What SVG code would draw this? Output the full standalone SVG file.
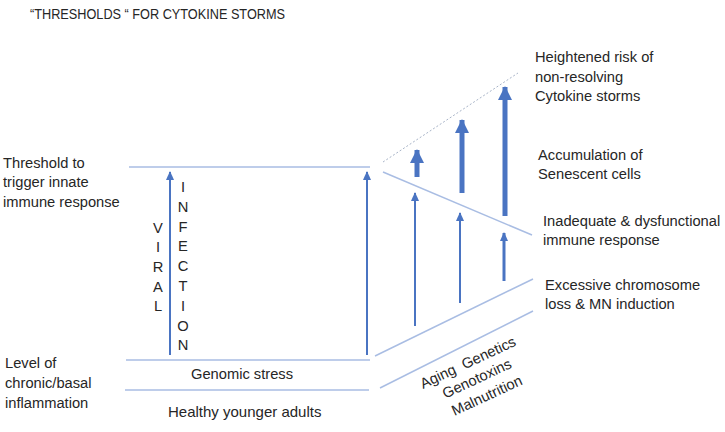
<svg xmlns="http://www.w3.org/2000/svg" width="725" height="432" viewBox="0 0 725 432">
<style>
text{font-family:"Liberation Sans",Arial,sans-serif;fill:#262626;font-size:14.7px}
.ln{stroke:#a9bde3;stroke-width:1.5;fill:none}
.ar{stroke:#4a74c2;fill:none}
</style>
<defs>
<marker id="hs" markerUnits="userSpaceOnUse" markerWidth="8" markerHeight="10" refX="4" refY="1" viewBox="0 0 8 10">
<path d="M4 0 L8 9 L0 9 Z" fill="#4a74c2"/>
</marker>
<marker id="hb" markerUnits="userSpaceOnUse" markerWidth="16" markerHeight="16" refX="8" refY="1" viewBox="0 0 16 16">
<path d="M8 0 L15 14 L1 14 Z" fill="#4a74c2"/>
</marker>
</defs>
<text x="30" y="19" style="font-size:14px" textLength="255" lengthAdjust="spacingAndGlyphs">“THRESHOLDS “ FOR CYTOKINE STORMS</text>
<g id="left-labels">
<text x="3" y="168">Threshold to</text>
<text x="3" y="187">trigger innate</text>
<text x="3" y="207">immune response</text>
<text x="5" y="368">Level of</text>
<text x="5" y="388">chronic/basal</text>
<text x="5" y="408">inflammation</text>
<text x="168" y="417" style="font-size:15px">Healthy younger adults</text>
</g>
<g id="levels">
<line class="ln" x1="129" y1="167" x2="370" y2="167"/>
<line class="ln" x1="126" y1="360" x2="370" y2="360"/>
<line class="ln" x1="125" y1="390" x2="369" y2="390"/>
<text x="242" y="379" text-anchor="middle">Genomic stress</text>
</g>
<g id="viral" text-anchor="middle" style="font-size:15px">
<text x="158" y="233">V</text><text x="158" y="252">I</text><text x="158" y="272">R</text><text x="158" y="292">A</text><text x="158" y="311">L</text>
<text x="183" y="192">I</text><text x="183" y="212">N</text><text x="183" y="232">F</text><text x="183" y="251">E</text><text x="183" y="271">C</text><text x="183" y="291">T</text><text x="183" y="311">I</text><text x="183" y="331">O</text><text x="183" y="350">N</text>
</g>
<g id="wedge">
<line x1="383" y1="162" x2="518" y2="73" stroke="#a8b4c8" stroke-width="1" stroke-dasharray="2,2"/>
<line class="ln" x1="383" y1="172" x2="532" y2="235"/>
<line class="ln" x1="375" y1="356" x2="533" y2="279"/>
<line class="ln" x1="380" y1="388" x2="533" y2="311"/>
</g>
<g id="connectors">
<line class="ar" x1="170" y1="355" x2="170" y2="172" stroke-width="2" marker-end="url(#hs)"/>
<line class="ar" x1="367" y1="355" x2="367" y2="172" stroke-width="2" marker-end="url(#hs)"/>
<line class="ar" x1="415" y1="326" x2="415" y2="193" stroke-width="2" marker-end="url(#hs)"/>
<line class="ar" x1="460" y1="303" x2="460" y2="213" stroke-width="2" marker-end="url(#hs)"/>
<line class="ar" x1="504" y1="281" x2="504" y2="233" stroke-width="3" marker-end="url(#hs)"/>
<line class="ar" x1="417" y1="177" x2="417" y2="150" stroke-width="5" marker-end="url(#hb)"/>
<line class="ar" x1="462" y1="193" x2="462" y2="120" stroke-width="5" marker-end="url(#hb)"/>
<line class="ar" x1="505" y1="216" x2="505" y2="87" stroke-width="5" marker-end="url(#hb)"/>
</g>
<g id="right-labels">
<text x="535" y="62">Heightened risk of</text>
<text x="535" y="82">non-resolving</text>
<text x="535" y="101">Cytokine storms</text>
<text x="538" y="160">Accumulation of</text>
<text x="538" y="179">Senescent cells</text>
<text x="543" y="226">Inadequate &amp; dysfunctional</text>
<text x="543" y="245">immune response</text>
<text x="545" y="290">Excessive chromosome</text>
<text x="545" y="309">loss &amp; MN induction</text>
</g>
<g id="factors" text-anchor="middle" style="font-size:15px">
<text transform="translate(470,367) rotate(-25)" xml:space="preserve">Aging  Genetics</text>
<text transform="translate(479,383) rotate(-25)">Genotoxins</text>
<text transform="translate(489,400) rotate(-25)">Malnutrition</text>
</g>
</svg>
